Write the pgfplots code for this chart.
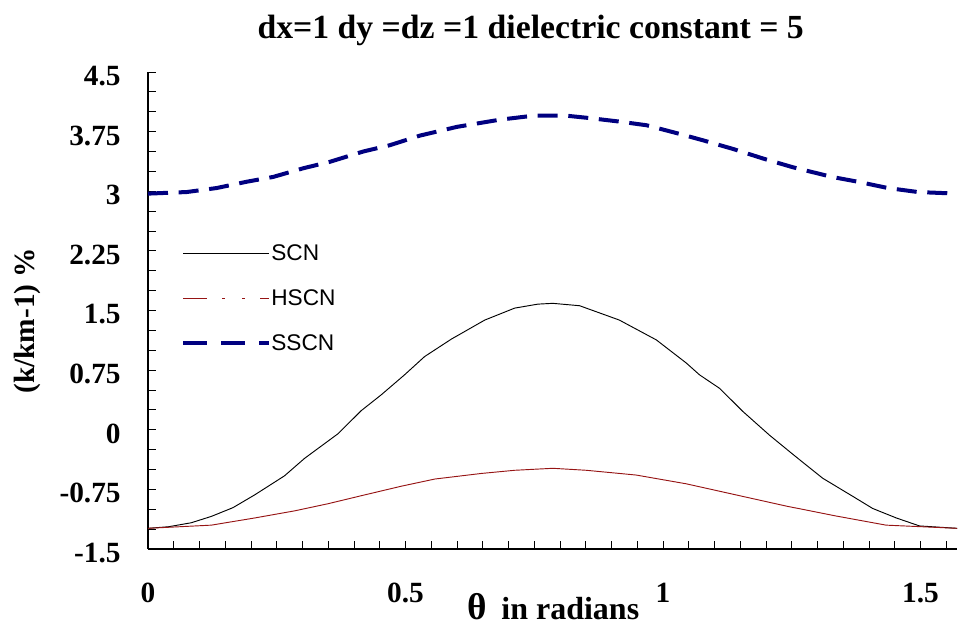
\documentclass[border=0pt]{standalone}
\usepackage{fontspec}
\setmainfont{Liberation Serif}
\setsansfont{Liberation Sans}
\usepackage{pgfplots}
\pgfplotsset{compat=1.18}
\definecolor{hred}{RGB}{150,20,20}
\definecolor{snavy}{RGB}{0,0,128}
\begin{document}
\begin{tikzpicture}
\useasboundingbox (0,0) rectangle (718.5pt,472.5pt);
\begin{axis}[
  at={(111pt,60.75pt)}, anchor=south west,
  scale only axis, width=606.75pt, height=357.75pt,
  xmin=0, xmax=1.5708, ymin=-1.5, ymax=4.5,
  axis x line*=bottom, axis y line*=left,
  axis line style={line width=0.9pt},
  clip=false,
  tick align=inside,
  xtick={0,0.5,1,1.5}, xticklabels={0,0.5,1,1.5},
  minor xtick={0.05,0.1,0.15,0.2,0.25,0.3,0.35,0.4,0.45,0.55,0.6,0.65,0.7,0.75,0.8,0.85,0.9,0.95,1.05,1.1,1.15,1.2,1.25,1.3,1.35,1.4,1.45,1.55},
  ytick={-1.5,-0.75,0,0.75,1.5,2.25,3,3.75,4.5},
  yticklabels={-1.5,-0.75,0,0.75,1.5,2.25,3,3.75,4.5},
  minor ytick={-1.25,-1,-0.5,-0.25,0.25,0.5,1,1.25,1.75,2,2.5,2.75,3.25,3.5,4,4.25},
  major tick length=6pt, minor tick length=6pt,
  tick style={black, line width=0.6pt},
  ticklabel style={font=\bfseries\fontsize{22}{22}\selectfont},
  yticklabel style={xshift=-17pt, yshift=-3pt},
  xticklabel style={yshift=-22pt},
  legend cell align=left,
  legend style={at={(axis description cs:0.0408,0.526)}, anchor=west, draw=none, fill=none,
    inner sep=0pt, row sep=22pt,
    font=\sffamily\fontsize{17}{17}\selectfont,
    nodes={inner sep=0pt, text height=11.75pt, text depth=0pt},
    /tikz/every even column/.append style={column sep=3.75pt}},
]
\addplot[black, line width=0.7pt,
  legend image code/.code={\draw[black,line width=0.7pt] (0pt,0pt) -- (64.5pt,0pt);}]
  coordinates {
(0,-1.24) (0.04,-1.22) (0.084,-1.17) (0.123,-1.09) (0.165,-0.98) (0.207,-0.82)
(0.265,-0.58) (0.304,-0.36) (0.369,-0.05) (0.414,0.24) (0.453,0.44) (0.498,0.69)
(0.537,0.92) (0.589,1.14) (0.654,1.38) (0.712,1.53) (0.757,1.58) (0.786,1.59)
(0.838,1.56) (0.915,1.38) (0.987,1.13) (1.045,0.84) (1.071,0.69) (1.110,0.52)
(1.155,0.23) (1.207,-0.07) (1.258,-0.34) (1.310,-0.61) (1.369,-0.84) (1.407,-0.99)
(1.453,-1.11) (1.498,-1.21) (1.571,-1.24)
};
\addlegendentry{SCN}
\addplot[hred, line width=0.7pt,
  legend image code/.code={\draw[hred,line width=0.8pt,dash pattern=on 18pt off 11.25pt on 2.25pt off 12.75pt on 2.25pt off 11.25pt] (0pt,0pt) -- (64.5pt,0pt);}]
  coordinates {
(0,-1.24) (0.123,-1.20) (0.207,-1.11) (0.285,-1.02) (0.35,-0.93) (0.414,-0.83)
(0.492,-0.71) (0.557,-0.62) (0.647,-0.55) (0.712,-0.51) (0.786,-0.485) (0.851,-0.51)
(0.948,-0.57) (1.045,-0.68) (1.142,-0.82) (1.239,-0.96) (1.336,-1.085) (1.433,-1.20)
(1.571,-1.24)
};
\addlegendentry{HSCN}
\addplot[snavy, line width=3pt, dash pattern=on 15pt off 8pt,
  legend image code/.code={\draw[snavy,line width=3pt,dash pattern=on 18pt off 10.5pt] (0pt,0pt) -- (64.5pt,0pt);}]
  coordinates {
(0,2.97) (0.075,2.99) (0.133,3.04) (0.192,3.12) (0.243,3.18) (0.302,3.29)
(0.353,3.37) (0.418,3.50) (0.47,3.58) (0.528,3.70) (0.6,3.81) (0.683,3.90)
(0.748,3.95) (0.813,3.95) (0.858,3.92) (0.917,3.875) (0.968,3.83) (1.033,3.72)
(1.078,3.64) (1.137,3.53) (1.195,3.41) (1.253,3.30) (1.328,3.18) (1.378,3.12)
(1.437,3.04) (1.495,2.99) (1.571,2.97)
};
\addlegendentry{SSCN}
\end{axis}
\node[font=\bfseries\fontsize{25.3}{25.3}\selectfont] at (398pt,450pt) {dx=1 dy =dz =1 dielectric constant = 5};
\node[rotate=90, font=\bfseries\fontsize{22}{22}\selectfont] at (20.5pt,232pt) {(k/km-1) \%};
\node[anchor=base west, inner sep=0pt, font=\bfseries\fontsize{24}{24}\selectfont] at (350.25pt,7.5pt) {{\fontsize{28}{28}\selectfont θ}\hspace{11pt}in radians};
\end{tikzpicture}
\end{document}
